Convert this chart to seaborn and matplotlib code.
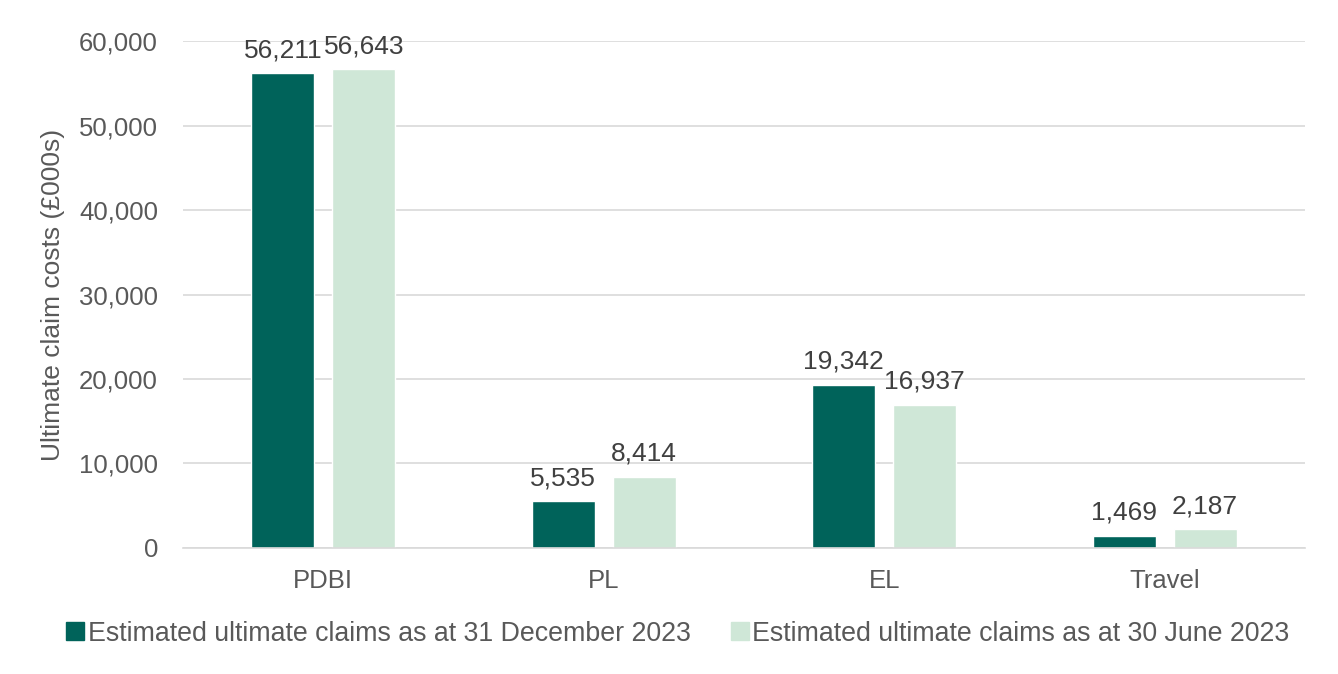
import matplotlib
matplotlib.use("Agg")
import matplotlib.pyplot as plt
import seaborn as sns
import pandas as pd
from matplotlib.lines import Line2D

categories = ["PDBI", "PL", "EL", "Travel"]
series_names = ["Estimated ultimate claims as at 31 December 2023",
                "Estimated ultimate claims as at 30 June 2023"]
dec_2023 = [56211, 5535, 19342, 1469]
jun_2023 = [56643, 8414, 16937, 2187]
y_ticks = [0, 10000, 20000, 30000, 40000, 50000, 60000]

colors = ["#00635A", "#CFE7D7"]
text_color = "#595959"

df = pd.DataFrame({
    "category": categories * 2,
    "series": [series_names[0]] * 4 + [series_names[1]] * 4,
    "value": dec_2023 + jun_2023,
})

sns.set_theme(style="white")
plt.rcParams["font.family"] = ["Liberation Sans", "DejaVu Sans"]

fig = plt.figure(figsize=(13.38, 6.74), dpi=100)
fig.patch.set_facecolor("white")
ax = fig.add_axes([0.1368, 0.187, 0.9753 - 0.1368, 0.939 - 0.187])

sns.barplot(data=df, x="category", y="value", hue="series", order=categories,
            hue_order=series_names, palette=colors, width=0.577, gap=0.22,
            saturation=1, ax=ax, legend=False)

ax.set_xlim(-0.5, 3.5)
ax.set_ylim(0, 60000)
ax.set_yticks(y_ticks)
ax.set_yticklabels([f"{v:,}" for v in y_ticks])
ax.yaxis.grid(True, color="#D9D9D9", linewidth=1.2)
ax.set_axisbelow(True)
for s in ["top", "right", "left"]:
    ax.spines[s].set_visible(False)
ax.spines["bottom"].set_color("#D9D9D9")
ax.spines["bottom"].set_linewidth(1.2)
ax.tick_params(axis="y", length=0, pad=18, labelsize=18.5, labelcolor=text_color)
ax.tick_params(axis="x", length=0, pad=15, labelsize=18.5, labelcolor=text_color)
ax.set_xlabel("")
ax.set_ylabel("Ultimate claim costs (£000s)", fontsize=19, color=text_color, labelpad=10)

for cont in ax.containers:
    ax.bar_label(cont, labels=[f"{int(v):,}" for v in cont.datavalues],
                 padding=8, fontsize=19, color="#404040", clip_on=False)

handles = [Line2D([0], [0], marker="s", linestyle="none", markersize=13,
                  markerfacecolor=c, markeredgecolor=c) for c in colors]
fig.legend(handles, series_names, loc="center", bbox_to_anchor=(0.506, 0.06),
           ncol=2, frameon=False, fontsize=19.3, labelcolor=text_color,
           handletextpad=0.05, columnspacing=1.45, handlelength=0.8)

fig.savefig("out.png", dpi=100, facecolor="white")
